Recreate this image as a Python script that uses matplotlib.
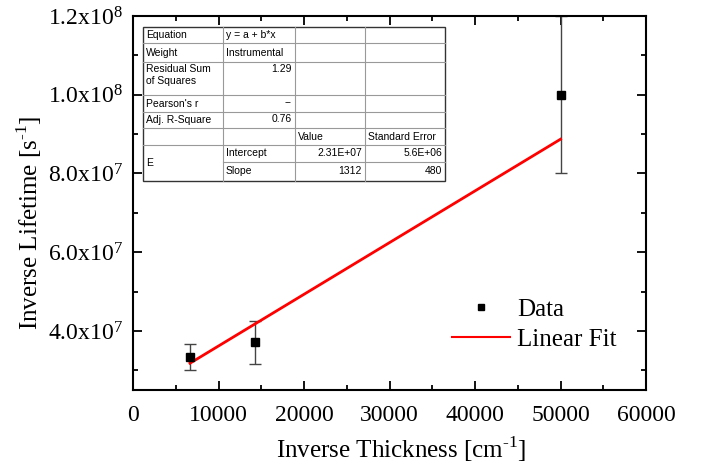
import matplotlib
matplotlib.use("Agg")
from matplotlib import pyplot as plt
from matplotlib.ticker import MultipleLocator, FuncFormatter
from matplotlib.lines import Line2D

# measured points
inv_thickness = [6667, 14286, 50000]
inv_lifetime = [3.35e7, 3.71e7, 1.0e8]
lifetime_err = [3.3e6, 5.5e6, 2.0e7]

# fitted line end points
fit_x = [6667, 50000]
fit_y = [3.18e7, 8.87e7]

# fit report table
table_rows = [
    ["Equation", "y = a + b*x", "", ""],
    ["Weight", "Instrumental", "", ""],
    ["Residual Sum\nof Squares", "1.29", "", ""],
    ["Pearson's r", "--", "", ""],
    ["Adj. R-Square", "0.76", "", ""],
    ["", "", "Value", "Standard Error"],
    ["E", "Intercept", "2.31E+07", "5.6E+06"],
    ["", "Slope", "1312", "480"],
]

plt.rcParams['font.family'] = ['Liberation Serif', 'DejaVu Serif']
plt.rcParams['mathtext.fontset'] = 'custom'
plt.rcParams['mathtext.rm'] = 'Liberation Serif'

W, H = 710, 470
fig = plt.figure(figsize=(W / 100, H / 100), dpi=100)
ax = fig.add_axes([133 / W, 1 - 390 / H, 513 / W, 374 / H])

ax.errorbar(inv_thickness, inv_lifetime, yerr=lifetime_err, fmt='s', color='black',
            ecolor='#444444', elinewidth=1, capsize=4, capthick=1, markersize=6)
ax.plot(fit_x, fit_y, color='red', lw=2)

ax.set_xlim(0, 60000)
ax.set_ylim(2.5e7, 1.2e8)
ax.xaxis.set_major_locator(MultipleLocator(10000))
ax.xaxis.set_minor_locator(MultipleLocator(5000))
ax.yaxis.set_major_locator(MultipleLocator(2e7))
ax.yaxis.set_minor_locator(MultipleLocator(1e7))


def sci(v, pos):
    exp = int(f"{v:e}".split("e")[1])
    mant = v / 10 ** exp
    return r"$\mathregular{%.1fx10^{%d}}$" % (mant, exp)


ax.yaxis.set_major_formatter(FuncFormatter(sci))
ax.tick_params(which='both', direction='in', top=True, right=True, width=1.3, labelsize=17)
ax.tick_params(which='major', length=6.5)
ax.tick_params(which='minor', length=3.5)
ax.tick_params(axis='y', pad=7.5)
ax.tick_params(axis='x', pad=10.5)
for s in ax.spines.values():
    s.set_linewidth(1.5)

xl = ax.set_xlabel(r"Inverse Thickness [cm$^{\text{-1}}$]", fontsize=18)
yl = ax.set_ylabel(r"Inverse Lifetime [s$^{\text{-1}}$]", fontsize=18)
xl.set_va('baseline')
yl.set_va('baseline')
ax.xaxis.set_label_coords(0.5224, -0.182)
ax.yaxis.set_label_coords(-0.185, 0.4465)

handles = [
    Line2D([], [], marker='s', color='black', ls='none', markersize=5),
    Line2D([], [], color='red', lw=1.5),
]
ax.legend(handles, ["Data", "Linear Fit"], loc='center left', bbox_to_anchor=(0.588, 0.175),
          frameon=False, fontsize=18, handlelength=2.3, handletextpad=0.3,
          labelspacing=0.3, borderpad=0.2)

# table drawn in pixel coordinates
col_x = [143, 223, 295, 365, 445]
row_y = [27, 43, 62, 95, 112, 128, 145, 162, 181]


def fx(px):
    return px / W


def fy(py):
    return 1 - py / H


fig.patches.append(plt.Rectangle((fx(143), fy(181)), fx(445) - fx(143), fy(27) - fy(181),
                                 transform=fig.transFigure, facecolor='white',
                                 edgecolor='#333333', lw=1, zorder=5))
lc = '#999999'
for y in row_y[1:-1]:
    x0 = col_x[1] if y == row_y[7] else col_x[0]
    fig.add_artist(Line2D([fx(x0), fx(445)], [fy(y), fy(y)], color=lc, lw=0.8, zorder=6))
for x in col_x[1:-1]:
    fig.add_artist(Line2D([fx(x), fx(x)], [fy(27), fy(181)], color=lc, lw=0.8, zorder=6))

sans = ['Liberation Sans', 'DejaVu Sans']
for i, row in enumerate(table_rows):
    for j, txt in enumerate(row):
        if not txt:
            continue
        top = row_y[i]
        bottom = row_y[i + 1]
        if txt == "E":
            bottom = row_y[i + 2]
        numeric = (j == 1 and i in (2, 3, 4)) or (j >= 2 and i >= 6)
        if numeric:
            x = col_x[j + 1] - 3
            ha = 'right'
        else:
            x = col_x[j] + 3
            ha = 'left'
        if j == 1 and i in (2, 3, 4):
            y = top + 2
            va = 'top'
        elif i == 2 and j == 0:
            y = top + 2
            va = 'top'
        else:
            y = (top + bottom) / 2
            va = 'center'
        fig.text(fx(x), fy(y), txt, ha=ha, va=va, fontsize=7.5, family=sans,
                 linespacing=1.25, zorder=7)

fig.savefig("out.png", dpi=100)
